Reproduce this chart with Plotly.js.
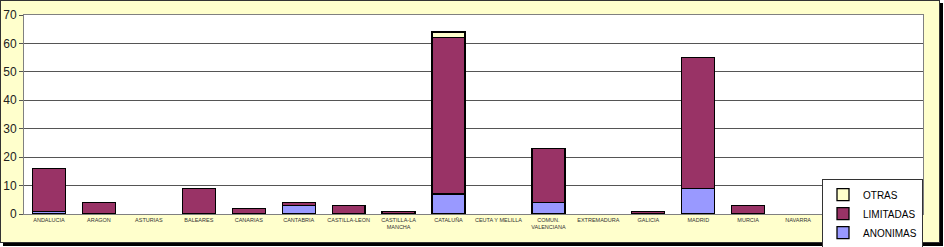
<!DOCTYPE html>
<html>
<head>
<meta charset="utf-8">
<script src="https://cdn.plot.ly/plotly-3.0.1.min.js"></script>
<style>
  html, body { margin: 0; padding: 0; background: #ffffff; }
  #frame { position: absolute; left: 0; top: 0; width: 938px; height: 241px;
           background: #FFFFCC; border: 1px solid #333333; box-shadow: 3px 3px 0 #000000; }
  #chart { position: absolute; left: 0; top: 0; width: 944px; height: 247px; }
</style>
</head>
<body>
<div id="frame"></div>
<div id="chart"></div>
<script>
const categories = ["ANDALUCIA", "ARAGON", "ASTURIAS", "BALEARES", "CANARIAS", "CANTABRIA",
  "CASTILLA-LEON", "CASTILLA-LA<br>MANCHA", "CATALUÑA", "CEUTA Y MELILLA", "COMUN.<br>VALENCIANA",
  "EXTREMADURA", "GALICIA", "MADRID", "MURCIA", "NAVARRA", "PAIS VASCO", "RIOJA"];
const anonimas  = [1, 0, 0, 0, 0, 3, 0, 0, 7, 0, 4, 0, 0, 9, 0, 0, 2, 0];
const limitadas = [15, 4, 0, 9, 2, 1, 3, 1, 55, 0, 19, 0, 1, 46, 3, 0, 7, 0];
const otras     = [0, 0, 0, 0, 0, 0, 0, 0, 2, 0, 0, 0, 0, 0, 0, 0, 0, 0];
const yTicks = [0, 10, 20, 30, 40, 50, 60, 70];

// a zero value draws no bar at all (no flat outline)
const nz = arr => arr.map(v => (v === 0 ? null : v));

const line = { color: "#000000", width: 1.3 };
const traces = [
  { type: "bar", name: "ANONIMAS", x: categories, y: nz(anonimas), marker: { color: "#9999FF", line: line } },
  { type: "bar", name: "LIMITADAS", x: categories, y: nz(limitadas), marker: { color: "#993366", line: line } },
  { type: "bar", name: "OTRAS", x: categories, y: nz(otras), marker: { color: "#FFFFCC", line: line } }
];

const layout = {
  width: 944, height: 247,
  margin: { l: 24, r: 21, t: 15, b: 33, pad: 0, autoexpand: false },
  paper_bgcolor: "rgba(0,0,0,0)",
  plot_bgcolor: "#FFFFFF",
  barmode: "stack",
  bargap: 0.34,
  font: { family: "Liberation Sans, Arial, sans-serif", color: "#222222" },
  xaxis: {
    type: "category", tickangle: 0, showgrid: false,
    showline: true, linecolor: "#808080", linewidth: 1, mirror: true,
    ticks: "", tickfont: { size: 5.5, color: "#333333" }, automargin: false
  },
  yaxis: {
    range: [0, 70], tickvals: yTicks, ticktext: yTicks.map(String),
    showgrid: true, gridcolor: "#555555", gridwidth: 1,
    showline: true, linecolor: "#808080", linewidth: 1, mirror: true,
    ticks: "outside", ticklen: 4, tickcolor: "#555555",
    tickfont: { size: 12, color: "#222222" }, zeroline: false, automargin: false
  },
  showlegend: true,
  legend: {
    x: 1.0, xanchor: "right", y: 0.175, yanchor: "top",
    bgcolor: "#FFFFFF", bordercolor: "#333333", borderwidth: 1,
    font: { size: 10, color: "#000000" },
    traceorder: "reversed", itemwidth: 30, tracegroupgap: 0
  }
};

Plotly.newPlot("chart", traces, layout, { displayModeBar: false, staticPlot: true });
</script>
</body>
</html>
